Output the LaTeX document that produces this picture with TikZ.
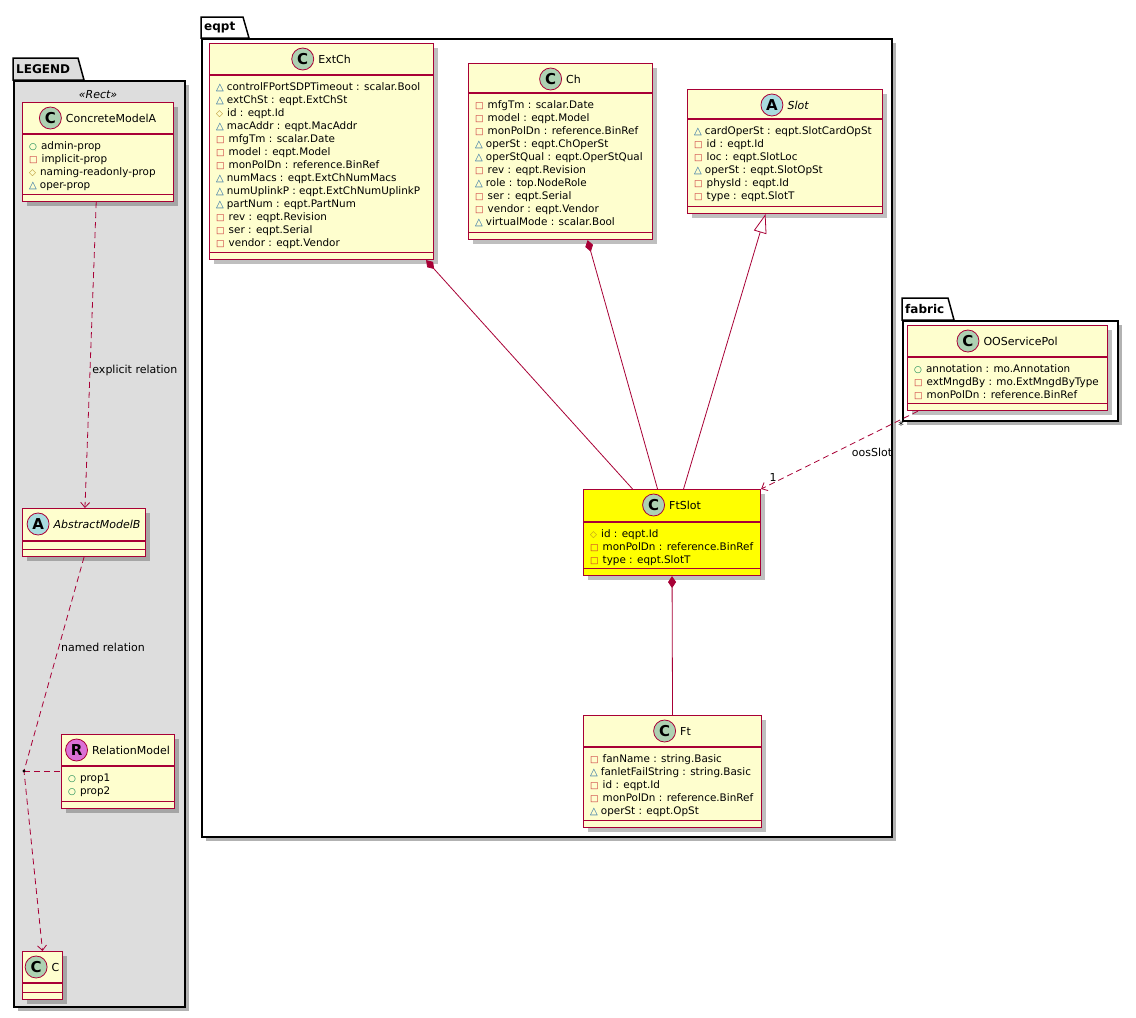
\documentclass[tikz,border=0pt]{standalone}
\usepackage{fontspec}
\setmainfont{DejaVu Sans}
\usepackage{xcolor}
\usetikzlibrary{arrows.meta, calc, positioning, shadows}
\definecolor{Border} {HTML}{A80036}
\definecolor{ClsF}   {HTML}{FEFECE}
\definecolor{HiF}    {HTML}{FFFF00}
\definecolor{LegF}   {HTML}{DDDDDD}
\definecolor{BadgeC} {HTML}{ADD1B2}
\definecolor{BadgeA} {HTML}{A9DCDF}
\definecolor{BadgeR} {HTML}{DA70D6}
\definecolor{PubG}   {HTML}{038048}
\definecolor{PrivR}  {HTML}{C82930}
\definecolor{ProtY}  {HTML}{B38D22}
\definecolor{PkgB}   {HTML}{1963A0}
% visibility marks
\newcommand{\vpub}{{\fontsize{9}{8}\selectfont\textcolor{PubG}{○}}\hspace{4pt}}
\newcommand{\vpriv}{{\fontsize{9}{8}\selectfont\textcolor{PrivR}{□}}\hspace{4pt}}
\newcommand{\vprot}{{\fontsize{9}{8}\selectfont\textcolor{ProtY}{◇}}\hspace{4pt}}
\newcommand{\vpkg}{{\fontsize{10}{8}\selectfont\textcolor{PkgB}{△}}\hspace{3pt}}
\tikzset{
  cls/.style={
    rectangle, draw=Border, fill=ClsF, line width=1.1pt,
    inner sep=0pt, anchor=north west,
    drop shadow={shadow xshift=4pt, shadow yshift=-4pt, fill=black, opacity=.25},
  },
  sep/.style={draw=Border, line width=1.1pt},
  hdr/.style={
    font=\fontsize{11}{13}\selectfont, inner sep=0pt,
    xshift=13pt, yshift=-16pt,
  },
  badge/.style={
    circle, draw=Border, fill=#1, line width=.8pt,
    minimum size=22pt, inner sep=0pt,
    font=\fontsize{15}{15}\selectfont\bfseries,
  },
  att/.style={
    anchor=north west, inner sep=0pt, align=left,
    font=\fontsize{10.4}{13}\selectfont,
  },
  pkg/.style={
    rectangle, draw=black, line width=1.5pt, fill=white,
    inner sep=0pt, anchor=north west,
    drop shadow={shadow xshift=4pt, shadow yshift=-4pt, fill=black, opacity=.3},
  },
  tab/.style={draw=black, line width=1.5pt, line join=miter},
  pkgname/.style={font=\fontsize{12}{14}\selectfont\bfseries, anchor=west, inner sep=0pt},
  dep/.style={
    draw=Border, line width=.8pt, dash pattern=on 6pt off 4pt,
    -{Straight Barb[length=5pt,width=9pt]},
  },
  comp/.style={draw=Border, line width=.8pt, {Diamond[length=12pt,width=8pt]}-},
  inh/.style={draw=Border, line width=.8pt, -{Triangle[open,length=19pt,width=13pt,fill=white]}},
  lbl/.style={font=\fontsize{11}{13}\selectfont, inner sep=1pt},
}
\begin{document}
\begin{tikzpicture}[x=1pt,y=-1pt]
  \useasboundingbox (0,0) rectangle (1136,1018);

  % packages
  \node[pkg, fill=LegF, minimum width=171, minimum height=926] (legend) at (13,80) {};
  \draw[tab, fill=LegF] (legend.north west) -- ++(0,-22) -- ++(65,0) -- ++(6,22) -- cycle;
  \node[pkgname] (legend-t) at ($(legend.north west)+(3,-11)$) {LEGEND};
  \node[font=\fontsize{11}{13}\selectfont\itshape] (legend-st) at (98,95) {«Rect»};

  \node[pkg, minimum width=690, minimum height=798] (eqpt) at (201,38) {};
  \draw[tab, fill=white] (eqpt.north west) -- ++(0,-21) -- ++(42,0) -- ++(6,21) -- cycle;
  \node[pkgname] (eqpt-t) at ($(eqpt.north west)+(3,-10.5)$) {eqpt};

  \node[pkg, minimum width=215, minimum height=100] (fabric) at (902,320) {};
  \draw[tab, fill=white] (fabric.north west) -- ++(0,-22) -- ++(46,0) -- ++(6,22) -- cycle;
  \node[pkgname] (fabric-t) at ($(fabric.north west)+(3,-11)$) {fabric};

  % legend classes
  \node[cls, minimum width=151, minimum height=99] (conc) at (22,102) {};
  \node[hdr] (conc-t) at (conc.north) {ConcreteModelA};
  \node[badge=BadgeC, left=4pt of conc-t] (conc-b) {C};
  \node[att] (conc-a) at ($(conc.north west)+(7,39.5)$)
    {\vpub admin-prop\\\vpriv implicit-prop\\\vprot naming-readonly-prop\\\vpkg oper-prop};

  \node[cls, minimum width=123, minimum height=48] (absb) at (22,508) {};
  \node[hdr, font=\fontsize{11}{13}\selectfont\itshape] (absb-t) at (absb.north) {AbstractModelB};
  \node[badge=BadgeA, left=4pt of absb-t] (absb-b) {A};

  \node[cls, minimum width=113, minimum height=74] (relm) at (61,734) {};
  \node[hdr] (relm-t) at (relm.north) {RelationModel};
  \node[badge=BadgeR, left=4pt of relm-t] (relm-b) {R};
  \node[att] (relm-a) at ($(relm.north west)+(7,39.5)$) {\vpub prop1\\\vpub prop2};

  \node[cls, minimum width=40, minimum height=48] (cc) at (22,951) {};
  \node[hdr] (cc-t) at (cc.north) {C};
  \node[badge=BadgeC, left=4pt of cc-t] (cc-b) {C};

  % eqpt classes
  \node[cls, minimum width=224, minimum height=216] (extch) at (209,43) {};
  \node[hdr] (extch-t) at (extch.north) {ExtCh};
  \node[badge=BadgeC, left=4pt of extch-t] (extch-b) {C};
  \node[att] (extch-a) at ($(extch.north west)+(7,39.5)$)
    {\vpkg controlFPortSDPTimeout : scalar.Bool\\
     \vpkg extChSt : eqpt.ExtChSt\\
     \vprot id : eqpt.Id\\
     \vpkg macAddr : eqpt.MacAddr\\
     \vpriv mfgTm : scalar.Date\\
     \vpriv model : eqpt.Model\\
     \vpriv monPolDn : reference.BinRef\\
     \vpkg numMacs : eqpt.ExtChNumMacs\\
     \vpkg numUplinkP : eqpt.ExtChNumUplinkP\\
     \vpkg partNum : eqpt.PartNum\\
     \vpriv rev : eqpt.Revision\\
     \vpriv ser : eqpt.Serial\\
     \vpriv vendor : eqpt.Vendor};

  \node[cls, minimum width=184, minimum height=176] (ch) at (468,63) {};
  \node[hdr] (ch-t) at (ch.north) {Ch};
  \node[badge=BadgeC, left=4pt of ch-t] (ch-b) {C};
  \node[att] (ch-a) at ($(ch.north west)+(7,37.5)$)
    {\vpriv mfgTm : scalar.Date\\
     \vpriv model : eqpt.Model\\
     \vpriv monPolDn : reference.BinRef\\
     \vpkg operSt : eqpt.ChOperSt\\
     \vpkg operStQual : eqpt.OperStQual\\
     \vpriv rev : eqpt.Revision\\
     \vpkg role : top.NodeRole\\
     \vpriv ser : eqpt.Serial\\
     \vpriv vendor : eqpt.Vendor\\
     \vpkg virtualMode : scalar.Bool};

  \node[cls, minimum width=195, minimum height=124] (slot) at (687,89) {};
  \node[hdr, font=\fontsize{11}{13}\selectfont\itshape] (slot-t) at (slot.north) {Slot};
  \node[badge=BadgeA, left=4pt of slot-t] (slot-b) {A};
  \node[att] (slot-a) at ($(slot.north west)+(7,37.5)$)
    {\vpkg cardOperSt : eqpt.SlotCardOpSt\\
     \vpriv id : eqpt.Id\\
     \vpriv loc : eqpt.SlotLoc\\
     \vpkg operSt : eqpt.SlotOpSt\\
     \vpriv physId : eqpt.Id\\
     \vpriv type : eqpt.SlotT};

  \node[cls, fill=HiF, minimum width=177, minimum height=86] (ftslot) at (583,489) {};
  \node[hdr] (ftslot-t) at (ftslot.north) {FtSlot};
  \node[badge=BadgeC, left=4pt of ftslot-t] (ftslot-b) {C};
  \node[att] (ftslot-a) at ($(ftslot.north west)+(7,40)$)
    {\vprot id : eqpt.Id\\
     \vpriv monPolDn : reference.BinRef\\
     \vpriv type : eqpt.SlotT};

  \node[cls, minimum width=178, minimum height=112] (ft) at (583,715) {};
  \node[hdr] (ft-t) at (ft.north) {Ft};
  \node[badge=BadgeC, left=4pt of ft-t] (ft-b) {C};
  \node[att] (ft-a) at ($(ft.north west)+(7,39.5)$)
    {\vpriv fanName : string.Basic\\
     \vpkg fanletFailString : string.Basic\\
     \vpriv id : eqpt.Id\\
     \vpriv monPolDn : reference.BinRef\\
     \vpkg operSt : eqpt.OpSt};

  % fabric class
  \node[cls, minimum width=200, minimum height=85] (oos) at (907,325) {};
  \node[hdr] (oos-t) at (oos.north) {OOServicePol};
  \node[badge=BadgeC, left=4pt of oos-t] (oos-b) {C};
  \node[att] (oos-a) at ($(oos.north west)+(7,39.5)$)
    {\vpub annotation : mo.Annotation\\
     \vpriv extMngdBy : mo.ExtMngdByType\\
     \vpriv monPolDn : reference.BinRef};

  % compartment lines
  \foreach \n/\h in {conc/32, absb/33, relm/32, cc/32, extch/32, ch/30,
                     slot/30, ftslot/33, ft/32, oos/32} {
    \draw[sep] ($(\n.north west)+(0,\h)$) -- ($(\n.north east)+(0,\h)$);
    \draw[sep] ($(\n.south west)+(0,-8)$) -- ($(\n.south east)+(0,-8)$);
  }

  % legend relations
  \draw[dep] (conc) -- node[lbl, pos=.55, right=1pt] (expl) {explicit relation} (absb);
  \coordinate (relpt) at (24,771);
  \draw[dep] (absb.south) -- node[lbl, pos=.42, right=1pt] (named) {named relation} (relpt) -- (cc.north);
  \draw[draw=Border, line width=.8pt, dash pattern=on 6pt off 4pt] (relpt) -- (relm.west |- relpt);
  \fill[black] (relpt) circle (1.7);

  % eqpt relations
  \draw[comp] ([xshift=-8pt]extch.south east) -- ([xshift=-39.5pt]ftslot.north);
  \draw[comp] ([xshift=27pt]ch.south) -- ([xshift=-14.5pt]ftslot.north);
  \draw[inh]  ([xshift=11.5pt]ftslot.north) -- ([xshift=-19.5pt]slot.south);
  \draw[comp] (ftslot.south) -- (ft.north);
  \draw[dep]  ([xshift=11pt]oos.south west) -- (ftslot.north east);
  \node[lbl] (oos-m)  at (901,425) {*};
  \node[lbl] (oos-one) at (773,477) {1};
  \node[lbl] (oos-r)  at (872,452) {oosSlot};
\end{tikzpicture}
\end{document}
